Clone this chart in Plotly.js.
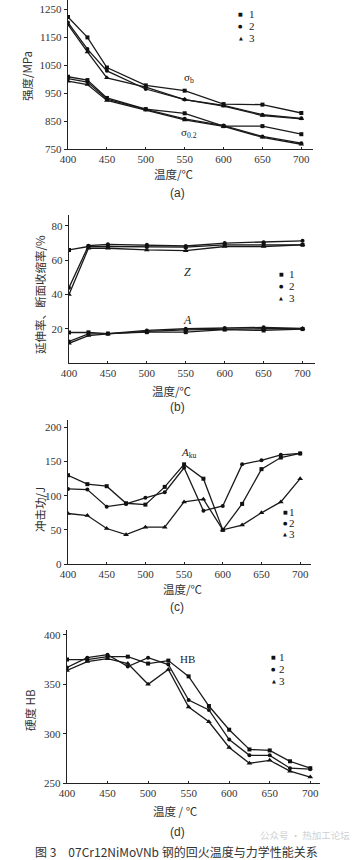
<!DOCTYPE html>
<html>
<head>
<meta charset="utf-8">
<script src="https://cdn.plot.ly/plotly-3.0.1.min.js"></script>
<style>html,body{margin:0;padding:0;background:#fff;}#chart{width:362px;height:860px;}</style>
</head>
<body>
<div id="chart"></div>
<script>
// ---------------- DATA ----------------
const seriesNames = ['1', '2', '3'];
const legendSymbols = ['■', '●', '▲'];

// (a) strength vs tempering temperature
const tempsA = [400, 425, 450, 500, 550, 600, 650, 700];
const sigmaB1 = [1223, 1150, 1042, 978, 959, 911, 909, 879];
const sigmaB2 = [1203, 1108, 1030, 965, 927, 906, 873, 860];
const sigmaB3 = [1196, 1098, 1005, 972, 927, 904, 870, 858];
const sigma021 = [1009, 997, 933, 893, 878, 832, 832, 803];
const sigma022 = [1002, 990, 929, 892, 858, 834, 795, 771];
const sigma023 = [993, 981, 924, 890, 854, 831, 792, 767];

// (b) elongation A and reduction of area Z
const tempsB = [400, 425, 450, 500, 550, 600, 650, 700];
const Z1 = [66, 68, 68, 68, 67.6, 69, 69, 69];
const Z2 = [44, 68.5, 69.3, 69, 68.3, 70, 70.5, 71.3];
const Z3 = [40, 67, 67, 66, 65.6, 68, 68, 69];
const A1 = [17.8, 17.9, 17.2, 18, 18, 19.5, 19, 19.8];
const A2 = [12.6, 17, 17.1, 19, 20, 20.4, 20.8, 20.2];
const A3 = [11.5, 16, 17, 18.5, 19.3, 19.8, 20, 20];

// (c) impact energy
const tempsC = [400, 425, 450, 475, 500, 525, 550, 575, 600, 625, 650, 675, 700];
const Aku1 = [130, 117, 114, 89, 87, 113, 146, 125, 50, 88, 139, 156, 162];
const Aku2 = [110, 109, 84, 88, 97, 105, 141, 78, 85, 146, 152, 160, 162];
const Aku3 = [74, 71, 52, 43, 54, 54, 91, 95, 50, 57, 75, 91, 125];

// (d) hardness HB
const tempsD = [400, 425, 450, 475, 500, 525, 550, 575, 600, 625, 650, 675, 700];
const HB1 = [375, 375, 378, 378, 371, 374, 358, 328, 304, 284, 283, 272, 265];
const HB2 = [367, 377, 380, 368, 377, 370, 334, 324, 294, 278, 278, 265, 264];
const HB3 = [364, 373, 376, 371, 350, 365, 327, 312, 286, 270, 273, 262, 256];

const tickA = [750, 850, 950, 1050, 1150, 1250];
const tickB = [20, 40, 60, 80];
const tickC = [0, 50, 100, 150, 200];
const tickD = [250, 300, 350, 400];
const tickX = [400, 450, 500, 550, 600, 650, 700];

// ---------------- STYLE / LAYOUT ----------------
const W = 362, H = 860;
const px = v => v / W;
const py = v => 1 - v / H;
const symbols = ['square', 'circle', 'triangle-up'];
const msizes = [4, 4, 5];
const serif = 'Liberation Serif, DejaVu Serif, serif';
const cjk = 'Noto Sans CJK SC, sans-serif';

const traces = [];
function addSeries(x, ys, xa, ya) {
  ys.forEach((y, i) => {
    traces.push({
      x: x, y: y, xaxis: xa, yaxis: ya, type: 'scatter', mode: 'lines+markers',
      name: seriesNames[i], showlegend: false, hoverinfo: 'skip',
      line: {color: '#1a1a1a', width: 1.3},
      marker: {symbol: symbols[i], size: msizes[i], color: '#111'}
    });
  });
}
addSeries(tempsA, [sigmaB1, sigmaB2, sigmaB3], 'x', 'y');
addSeries(tempsA, [sigma021, sigma022, sigma023], 'x', 'y');
addSeries(tempsB, [Z1, Z2, Z3], 'x2', 'y2');
addSeries(tempsB, [A1, A2, A3], 'x2', 'y2');
addSeries(tempsC, [Aku1, Aku2, Aku3], 'x3', 'y3');
addSeries(tempsD, [HB1, HB2, HB3], 'x4', 'y4');

function xAxis(d0, d1, range, anchor) {
  return {domain: [px(d0), px(d1)], range: range, anchor: anchor, tickvals: tickX,
    showline: true, linecolor: '#222', linewidth: 1.2, showgrid: false, zeroline: false,
    ticks: 'inside', ticklen: 2, tickcolor: '#222',
    tickfont: {family: serif, size: 11, color: '#333'}, fixedrange: true};
}
function yAxis(top, bottom, range, tv, anchor) {
  return {domain: [py(bottom), py(top)], range: range, anchor: anchor, tickvals: tv,
    showline: true, linecolor: '#222', linewidth: 1.2, showgrid: false, zeroline: false,
    ticks: 'outside', ticklen: 3, tickcolor: '#222',
    tickfont: {family: serif, size: 11, color: '#333'}, fixedrange: true};
}

const ann = [];
function textP(x, y, t, size, font, extra) {
  ann.push(Object.assign({xref: 'paper', yref: 'paper', x: px(x), y: py(y), text: t,
    showarrow: false, xanchor: 'center', yanchor: 'middle',
    font: {family: font, size: size, color: '#333'}}, extra || {}));
}
function textD(xr, yr, x, y, t, size) {
  ann.push({xref: xr, yref: yr, x: x, y: y, text: t, showarrow: false,
    xanchor: 'center', yanchor: 'middle', font: {family: serif, size: size, color: '#222'}});
}
function legend(mx, nx, ys) {
  ys.forEach((y, i) => {
    textP(mx, y, legendSymbols[i], 5, 'DejaVu Sans', {font: {family: 'DejaVu Sans', size: 5, color: '#111'}});
    textP(nx, y, seriesNames[i], 11, serif, {font: {family: serif, size: 11, color: '#222'}});
  });
}

// (a)
textP(27, 76, '强度/MPa', 11.5, cjk, {textangle: -90});
textP(174, 174, '温度/℃', 11.5, cjk);
textP(177, 193, '(a)', 12, 'Liberation Sans, Arial, sans-serif');
textD('x', 'y', 555, 1004, 'σ<sub>b</sub>', 11);
textD('x', 'y', 555, 806, 'σ<sub>0.2</sub>', 11);
legend(240.5, 251.5, [14, 26, 38]);
// (b)
textP(40, 295, '延伸率、断面收缩率/%', 11.5, cjk, {textangle: -90});
textP(172, 391, '温度/℃', 11.5, cjk);
textP(177, 407, '(b)', 12, 'Liberation Sans, Arial, sans-serif');
textD('x2', 'y2', 552, 53, '<i>Z</i>', 12);
textD('x2', 'y2', 552, 25, '<i>A</i>', 12);
legend(281, 291.5, [274, 286, 298]);
// (c)
textP(40, 510, '冲击功/J', 11.5, cjk, {textangle: -90});
textP(183, 589, '温度/℃', 11.5, cjk);
textP(177, 607, '(c)', 12, 'Liberation Sans, Arial, sans-serif');
textD('x3', 'y3', 556, 162, '<i>A</i><sub>ku</sub>', 11);
legend(285, 292, [512, 523, 534]);
// (d)
textP(30, 710, '硬度 HB', 11.5, cjk, {textangle: -90});
textP(175, 811, '温度 / ℃', 11.5, cjk);
textP(177, 832, '(d)', 12, 'Liberation Sans, Arial, sans-serif');
textD('x4', 'y4', 549, 376, 'HB', 11);
legend(273.5, 282, [657, 669, 681]);
// watermark & caption
textP(305, 835, '公众号 · 热加工论坛', 9.5, 'Noto Sans CJK SC', {font: {family: 'Noto Sans CJK SC', size: 9.5, color: '#cfcfcf'}});
textP(176, 851, '图 3　07Cr12NiMoVNb 钢的回火温度与力学性能关系', 12, 'Noto Sans CJK SC', {font: {family: 'Noto Sans CJK SC', size: 12, color: '#333'}});

const layout = {
  width: W, height: H, margin: {l: 0, r: 0, t: 0, b: 0},
  paper_bgcolor: '#fff', plot_bgcolor: '#fff', showlegend: false,
  xaxis: xAxis(68, 313, [400, 715], 'y'),
  yaxis: yAxis(0, 149, [750, 1284], tickA, 'x'),
  xaxis2: xAxis(69, 315, [400, 716], 'y2'),
  yaxis2: yAxis(215, 363, [0, 86.4], tickB, 'x2'),
  xaxis3: xAxis(68, 311, [400, 714], 'y3'),
  yaxis3: yAxis(420, 564, [0, 211], tickC, 'x3'),
  xaxis4: xAxis(67, 320, [400, 712], 'y4'),
  yaxis4: yAxis(630, 783, [250, 405], tickD, 'x4'),
  annotations: ann
};
Plotly.newPlot('chart', traces, layout, {staticPlot: true, displayModeBar: false});
</script>
</body>
</html>
